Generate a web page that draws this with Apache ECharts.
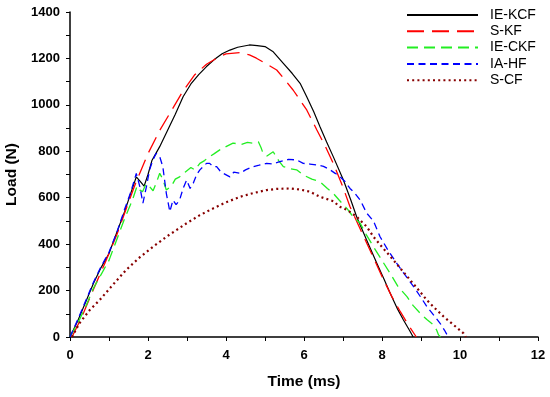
<!DOCTYPE html>
<html>
<head>
<meta charset="utf-8">
<script src="https://cdn.jsdelivr.net/npm/echarts@6/dist/echarts.min.js"></script>
<style>html,body{margin:0;padding:0;background:#fff}#c{width:550px;height:397px}</style>
</head>
<body>
<div id="c"></div>
<script>
const seriesNames = ['IE-KCF', 'S-KF', 'IE-CKF', 'IA-HF', 'S-CF'];
const xTicks = [0, 2, 4, 6, 8, 10, 12];
const yTicks = [0, 200, 400, 600, 800, 1000, 1200, 1400];

const ieKcf = [[0,0],[0.2,70],[0.4,150],[0.6,230],[0.8,300],[1.0,360],[1.2,450],[1.4,540],[1.6,640],[1.7,690],[1.8,670],[1.9,650],[2.0,700],[2.1,760],[2.2,790],[2.3,820],[2.5,890],[2.7,960],[2.9,1035],[3.1,1090],[3.3,1130],[3.5,1165],[3.7,1195],[3.9,1220],[4.1,1236],[4.3,1248],[4.6,1258],[4.8,1255],[5.0,1251],[5.2,1230],[5.47,1179],[5.7,1135],[5.9,1093],[6.07,1035],[6.25,970],[6.41,906],[6.58,840],[6.75,777],[7.01,676],[7.2,590],[7.35,518],[7.6,420],[7.87,317],[8.05,250],[8.21,188],[8.4,120],[8.55,73],[8.7,30],[8.8,0]];

const sKf = [[0.05,0],[0.3,85],[0.6,205],[0.9,320],[1.2,440],[1.5,580],[1.7,670],[2.0,790],[2.3,890],[2.6,975],[2.9,1060],[3.2,1130],[3.5,1175],[3.8,1205],[4.0,1220],[4.36,1225],[4.6,1215],[4.78,1201],[5.0,1180],[5.3,1150],[5.5,1110],[5.72,1064],[6.07,978],[6.33,892],[6.55,820],[6.75,748],[7.0,645],[7.18,561],[7.4,480],[7.61,404],[7.8,335],[8.04,246],[8.25,175],[8.47,109],[8.7,45],[8.88,0]];

const ieCkf = [[0,0],[0.2,60],[0.4,130],[0.6,210],[0.8,270],[1.0,330],[1.2,420],[1.4,510],[1.6,590],[1.72,650],[1.79,633],[1.86,626],[1.95,660],[2.04,648],[2.13,630],[2.21,663],[2.3,705],[2.38,680],[2.47,633],[2.6,650],[2.7,680],[2.81,690],[2.95,710],[3.1,730],[3.2,720],[3.33,748],[3.45,760],[3.58,777],[3.7,790],[3.84,806],[4.0,820],[4.18,835],[4.4,830],[4.55,838],[4.7,835],[4.83,841],[4.9,815],[4.95,791],[5.05,780],[5.21,798],[5.35,760],[5.47,734],[5.65,725],[5.81,720],[5.98,698],[6.2,680],[6.41,669],[6.6,640],[6.75,619],[6.9,590],[7.1,554],[7.25,520],[7.44,490],[7.6,440],[7.78,389],[8.0,330],[8.21,274],[8.4,220],[8.64,174],[8.8,135],[8.98,102],[9.15,75],[9.32,52],[9.4,30],[9.45,9],[9.5,0]];

const iaHf = [[0,0],[0.2,75],[0.4,155],[0.6,235],[0.8,305],[1.0,365],[1.2,450],[1.4,550],[1.55,620],[1.7,705],[1.79,648],[1.87,577],[1.96,648],[2.04,720],[2.12,760],[2.21,791],[2.3,777],[2.38,734],[2.47,619],[2.56,540],[2.64,590],[2.72,570],[2.81,590],[2.9,640],[2.99,676],[3.08,640],[3.16,662],[3.25,700],[3.33,720],[3.42,735],[3.5,748],[3.58,748],[3.67,734],[3.76,734],[3.85,715],[3.93,705],[4.1,690],[4.2,710],[4.36,705],[4.5,720],[4.7,734],[4.85,740],[5.04,748],[5.2,745],[5.38,755],[5.6,765],[5.81,763],[5.98,748],[6.15,745],[6.33,741],[6.5,735],[6.67,720],[6.8,705],[6.92,691],[7.05,670],[7.18,640],[7.3,620],[7.44,590],[7.61,533],[7.78,500],[7.95,432],[8.15,375],[8.38,317],[8.6,265],[8.81,217],[9.0,170],[9.15,131],[9.32,95],[9.49,59],[9.6,30],[9.67,9],[9.72,0]];

const sCf = [[0.05,0],[0.24,59],[0.5,115],[0.76,159],[1.1,225],[1.44,289],[1.8,345],[2.13,389],[2.5,435],[2.99,490],[3.33,525],[3.67,554],[4.0,580],[4.36,604],[4.7,620],[5.04,633],[5.3,638],[5.64,640],[5.9,635],[6.15,626],[6.41,604],[6.75,585],[6.92,561],[7.1,548],[7.35,518],[7.61,475],[7.78,432],[8.0,388],[8.29,332],[8.5,290],[8.72,246],[8.95,200],[9.15,159],[9.35,125],[9.58,88],[9.85,50],[10.09,16],[10.15,0]];

const seriesData = [ieKcf, sKf, ieCkf, iaHf, sCf];
const seriesColors = ['#000000', '#ff0000', '#22ee22', '#0000ff', '#880000'];
const seriesDash = ['solid', [17, 8], [11, 6], [7, 4.5], [2, 3.2]];
const seriesWidth = [1.2, 1.3, 1.3, 1.3, 2.2];

const chart = echarts.init(document.getElementById('c'), null, {renderer: 'canvas'});
const axisFont = {fontFamily: 'Liberation Sans, Arial, sans-serif', fontWeight: 'bold', fontSize: 13, color: '#000', formatter: v => String(v)};
chart.setOption({
  animation: false,
  backgroundColor: '#fff',
  grid: {left: 70, right: 12, top: 12, bottom: 60, containLabel: false, outerBoundsMode: 'none'},
  legend: {
    orient: 'vertical',
    left: 401,
    top: 3,
    padding: 5,
    itemWidth: 71,
    itemHeight: 10,
    itemGap: 2.3,
    data: seriesNames,
    itemStyle: {opacity: 0},
    textStyle: {fontFamily: 'Liberation Sans, Arial, sans-serif', fontSize: 14, color: '#000', padding: [0, 0, 0, 7]}
  },
  xAxis: {
    type: 'value',
    min: xTicks[0],
    max: xTicks[xTicks.length - 1],
    interval: 2,
    name: 'Time (ms)',
    nameLocation: 'middle',
    nameGap: 37,
    nameTextStyle: {fontFamily: 'Liberation Sans, Arial, sans-serif', fontWeight: 'bold', fontSize: 15.5, color: '#000'},
    axisLine: {show: true, lineStyle: {color: '#000', width: 1.5}},
    axisTick: {show: true, inside: false, length: 4, lineStyle: {color: '#000', width: 1}},
    minorTick: {show: true, splitNumber: 2, length: 4, lineStyle: {color: '#000', width: 1}},
    axisLabel: Object.assign({margin: 12}, axisFont),
    splitLine: {show: false}
  },
  yAxis: {
    type: 'value',
    min: yTicks[0],
    max: yTicks[yTicks.length - 1],
    interval: 200,
    name: 'Load (N)',
    nameLocation: 'middle',
    nameGap: 50,
    nameTextStyle: {fontFamily: 'Liberation Sans, Arial, sans-serif', fontWeight: 'bold', fontSize: 15.5, color: '#000'},
    axisLine: {show: true, lineStyle: {color: '#000', width: 1.5}},
    axisTick: {show: true, inside: false, length: 4, lineStyle: {color: '#000', width: 1}},
    minorTick: {show: true, splitNumber: 2, length: 4, lineStyle: {color: '#000', width: 1}},
    axisLabel: Object.assign({margin: 10}, axisFont),
    splitLine: {show: false}
  },
  series: seriesNames.map((n, i) => ({
    name: n,
    type: 'line',
    data: seriesData[i],
    showSymbol: false,
    symbol: 'none',
    smooth: false,
    clip: true,
    color: seriesColors[i],
    lineStyle: {color: seriesColors[i], width: seriesWidth[i], type: seriesDash[i], cap: 'butt'}
  }))
});
</script>
</body>
</html>
